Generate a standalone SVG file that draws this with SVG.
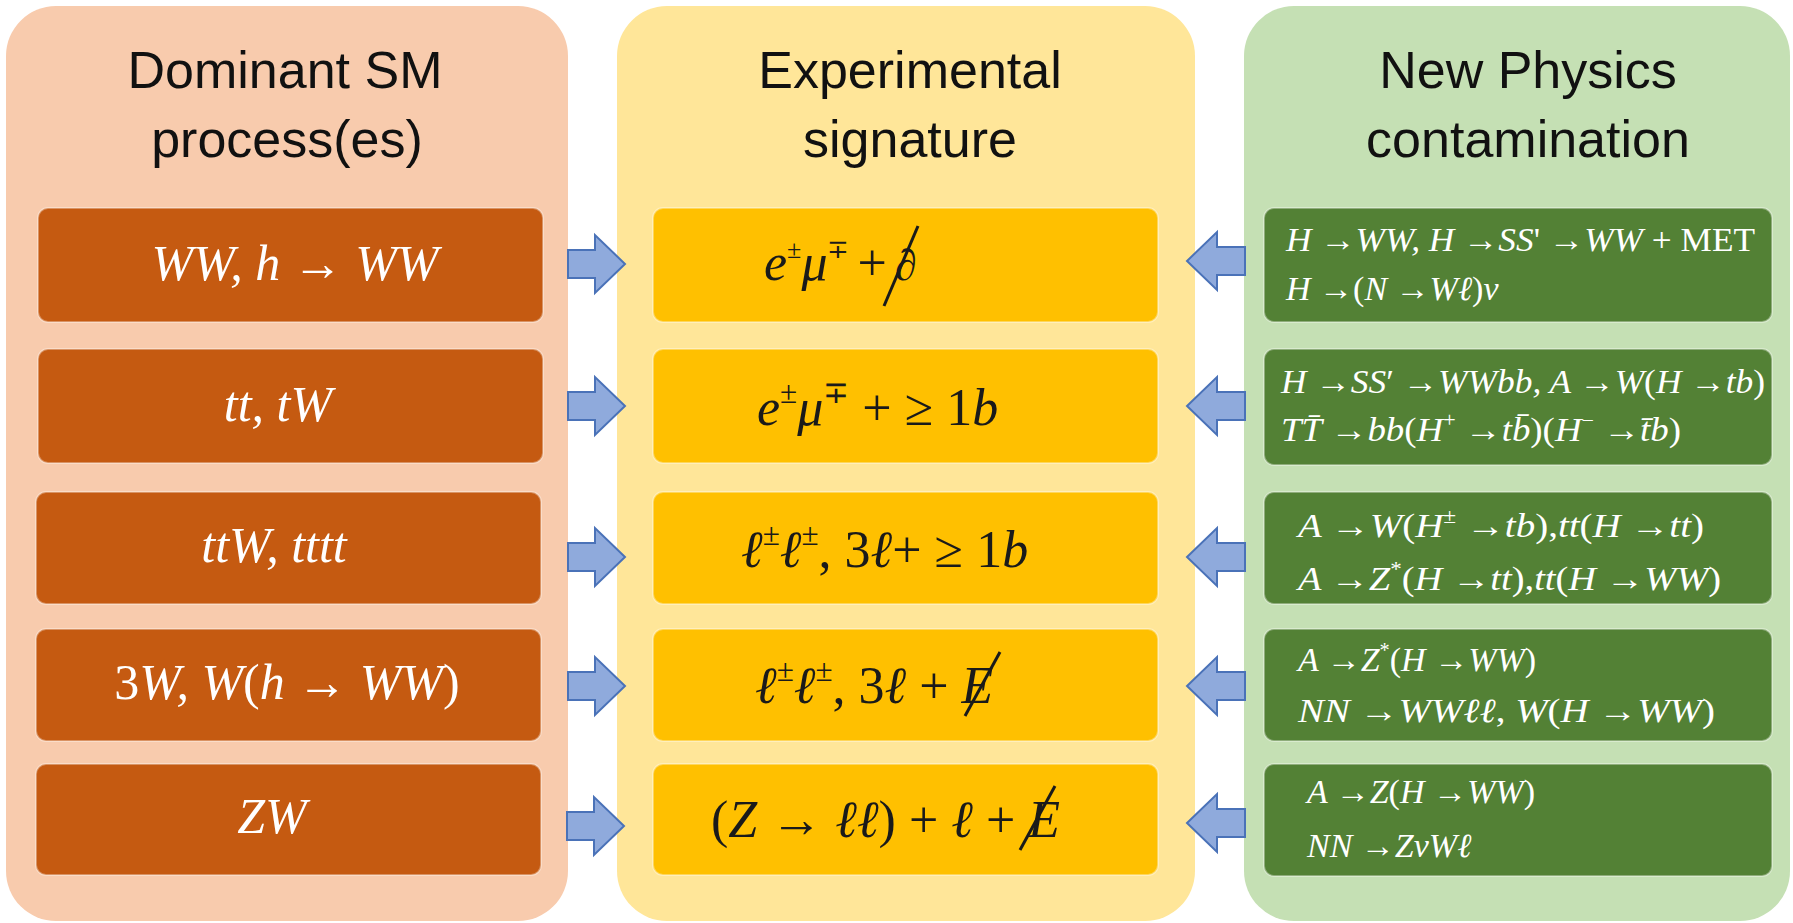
<svg xmlns="http://www.w3.org/2000/svg" width="1793" height="923" viewBox="0 0 1793 923">
<style>
.title{font-family:"Liberation Sans",Arial,sans-serif;font-size:52px;fill:#111;text-anchor:middle}
.m{font-family:"Liberation Serif","Times New Roman",serif;font-style:italic}
.up{font-style:normal}
.lt{fill:#fff;font-size:50px;text-anchor:middle}
.mt{fill:#1a1a1a;font-size:52px}
.gt{fill:#fff;font-size:34px}
.sup{font-size:60%}
.sup2{font-size:50%}
.panel{stroke:none}
.box{stroke:#ffffff;stroke-opacity:0.35;stroke-width:2}
.arrow{fill:#8FAADC;stroke:#4A72B8;stroke-width:2;stroke-linejoin:miter}
.slash{stroke:#1a1a1a;stroke-width:3}
</style>
<defs>
<path id="ra" d="M0,-14 H27 V-29 L57,0 L27,29 V14 H0 Z"/>
<path id="la" d="M0,-14 H-28 V-29 L-58,0 L-28,29 V14 H0 Z"/>
</defs>
<rect width="1793" height="923" fill="#ffffff"/>

<g id="panel-sm">
<rect class="panel" x="6" y="6" width="562" height="915" rx="50" fill="#F8CBAD"/>
<text class="title" x="285" y="88">Dominant SM</text>
<text class="title" x="287" y="157">process(es)</text>
</g>
<g id="panel-exp">
<rect class="panel" x="617" y="6" width="578" height="915" rx="50" fill="#FFE699"/>
<text class="title" x="910" y="88">Experimental</text>
<text class="title" x="910" y="157">signature</text>
</g>
<g id="panel-np">
<rect class="panel" x="1244" y="6" width="546" height="915" rx="50" fill="#C5E0B4"/>
<text class="title" x="1528" y="88">New Physics</text>
<text class="title" x="1528" y="157">contamination</text>
</g>

<g id="sm1"><rect class="box" x="38" y="208" width="505" height="114" rx="10" fill="#C55A11"/>
<text class="m lt" x="295" y="280">WW, h <tspan class="up">→</tspan> WW</text></g>
<g id="sm2"><rect class="box" x="38" y="349" width="505" height="114" rx="10" fill="#C55A11"/>
<text class="m lt" x="278" y="421">tt, tW</text></g>
<g id="sm3"><rect class="box" x="36" y="492" width="505" height="112" rx="10" fill="#C55A11"/>
<text class="m lt" x="274" y="562">ttW, tttt</text></g>
<g id="sm4"><rect class="box" x="36" y="629" width="505" height="112" rx="10" fill="#C55A11"/>
<text class="m lt" x="287" y="699"><tspan class="up">3</tspan>W, W<tspan class="up">(</tspan>h <tspan class="up">→</tspan> WW<tspan class="up">)</tspan></text></g>
<g id="sm5"><rect class="box" x="36" y="764" width="505" height="111" rx="10" fill="#C55A11"/>
<text class="m lt" x="272" y="833">ZW</text></g>

<g id="sig1"><rect class="box" x="653" y="208" width="505" height="114" rx="10" fill="#FFC000"/>
<text class="m mt" x="764" y="280">e<tspan class="sup2 up" dy="-22">±</tspan><tspan dy="22">μ</tspan><tspan class="sup2 up" dy="-22">∓</tspan><tspan class="up" dx="8" dy="22">+</tspan><tspan font-size="44" dx="8">∂</tspan></text>
<line class="slash" x1="884" y1="306" x2="918" y2="226"/></g>
<g id="sig2"><rect class="box" x="653" y="349" width="505" height="114" rx="10" fill="#FFC000"/>
<text class="m mt" x="757" y="425">e<tspan class="sup up" dy="-22">±</tspan><tspan dy="22">μ</tspan><tspan class="sup up" dy="-22">∓</tspan><tspan class="up" dy="22"> + ≥ 1</tspan>b</text></g>
<g id="sig3"><rect class="box" x="653" y="492" width="505" height="112" rx="10" fill="#FFC000"/>
<text class="m mt" x="741" y="567">ℓ<tspan class="sup up" dy="-22">±</tspan><tspan dy="22">ℓ</tspan><tspan class="sup up" dy="-22">±</tspan><tspan class="up" dy="22">, 3</tspan>ℓ<tspan class="up">+ ≥ 1</tspan>b</text></g>
<g id="sig4"><rect class="box" x="653" y="629" width="505" height="112" rx="10" fill="#FFC000"/>
<text class="m mt" x="755" y="703">ℓ<tspan class="sup up" dy="-22">±</tspan><tspan dy="22">ℓ</tspan><tspan class="sup up" dy="-22">±</tspan><tspan class="up" dy="22">, 3</tspan>ℓ<tspan class="up"> + </tspan>E</text>
<line class="slash" x1="965" y1="716" x2="1000" y2="652"/></g>
<g id="sig5"><rect class="box" x="653" y="764" width="505" height="111" rx="10" fill="#FFC000"/>
<text class="m mt" x="711" y="837"><tspan class="up">(</tspan>Z <tspan class="up">→</tspan> ℓℓ<tspan class="up">) + </tspan>ℓ<tspan class="up"> + </tspan>E</text>
<line class="slash" x1="1020" y1="850" x2="1055" y2="786"/></g>

<g id="np1"><rect class="box" x="1264" y="208" width="508" height="114" rx="10" fill="#538135"/>
<text class="m gt" x="1286" y="251" textLength="469" lengthAdjust="spacingAndGlyphs">H <tspan class="up">→</tspan>WW, H <tspan class="up">→</tspan>SS<tspan class="up">' →</tspan>WW <tspan class="up">+ MET</tspan></text>
<text class="m gt" x="1286" y="300">H <tspan class="up">→(</tspan>N <tspan class="up">→</tspan>Wℓ<tspan class="up">)</tspan>ν</text></g>
<g id="np2"><rect class="box" x="1264" y="349" width="508" height="116" rx="10" fill="#538135"/>
<text class="m gt" x="1281" y="393" textLength="484" lengthAdjust="spacingAndGlyphs">H <tspan class="up">→</tspan>SS<tspan class="up">′ →</tspan>WWbb, A <tspan class="up">→</tspan>W<tspan class="up">(</tspan>H <tspan class="up">→</tspan>tb<tspan class="up">)</tspan></text>
<text class="m gt" x="1281" y="441" textLength="400" lengthAdjust="spacingAndGlyphs">TT̄ <tspan class="up">→</tspan>bb<tspan class="up">(</tspan>H<tspan class="sup up" dy="-14">+</tspan><tspan class="up" dy="14"> →</tspan>tb̄<tspan class="up">)(</tspan>H<tspan class="sup up" dy="-14">−</tspan><tspan class="up" dy="14"> →</tspan>t̄b<tspan class="up">)</tspan></text></g>
<g id="np3"><rect class="box" x="1264" y="492" width="508" height="112" rx="10" fill="#538135"/>
<text class="m gt" x="1298" y="537" textLength="406" lengthAdjust="spacingAndGlyphs">A <tspan class="up">→</tspan>W<tspan class="up">(</tspan>H<tspan class="sup up" dy="-14">±</tspan><tspan class="up" dy="14"> →</tspan>tb<tspan class="up">),</tspan>tt<tspan class="up">(</tspan>H <tspan class="up">→</tspan>tt<tspan class="up">)</tspan></text>
<text class="m gt" x="1298" y="590" textLength="423" lengthAdjust="spacingAndGlyphs">A <tspan class="up">→</tspan>Z<tspan class="sup up" dy="-14">*</tspan><tspan class="up" dy="14">(</tspan>H <tspan class="up">→</tspan>tt<tspan class="up">),</tspan>tt<tspan class="up">(</tspan>H <tspan class="up">→</tspan>WW<tspan class="up">)</tspan></text></g>
<g id="np4"><rect class="box" x="1264" y="629" width="508" height="112" rx="10" fill="#538135"/>
<text class="m gt" x="1298" y="671">A <tspan class="up">→</tspan>Z<tspan class="sup up" dy="-14">*</tspan><tspan class="up" dy="14">(</tspan>H <tspan class="up">→</tspan>WW<tspan class="up">)</tspan></text>
<text class="m gt" x="1298" y="722" textLength="417" lengthAdjust="spacingAndGlyphs">NN <tspan class="up">→</tspan>WWℓℓ<tspan class="up">,</tspan> W<tspan class="up">(</tspan>H <tspan class="up">→</tspan>WW<tspan class="up">)</tspan></text></g>
<g id="np5"><rect class="box" x="1264" y="764" width="508" height="112" rx="10" fill="#538135"/>
<text class="m gt" x="1307" y="803">A <tspan class="up">→</tspan>Z<tspan class="up">(</tspan>H <tspan class="up">→</tspan>WW<tspan class="up">)</tspan></text>
<text class="m gt" x="1307" y="857">NN <tspan class="up">→</tspan>ZνWℓ</text></g>

<g id="connectors">
<use href="#ra" class="arrow" x="568" y="264"/>
<use href="#ra" class="arrow" x="568" y="406"/>
<use href="#ra" class="arrow" x="568" y="557"/>
<use href="#ra" class="arrow" x="568" y="686"/>
<use href="#ra" class="arrow" x="567" y="826"/>
<use href="#la" class="arrow" x="1245" y="261"/>
<use href="#la" class="arrow" x="1245" y="406"/>
<use href="#la" class="arrow" x="1245" y="557"/>
<use href="#la" class="arrow" x="1245" y="686"/>
<use href="#la" class="arrow" x="1245" y="823"/>
</g>
</svg>
